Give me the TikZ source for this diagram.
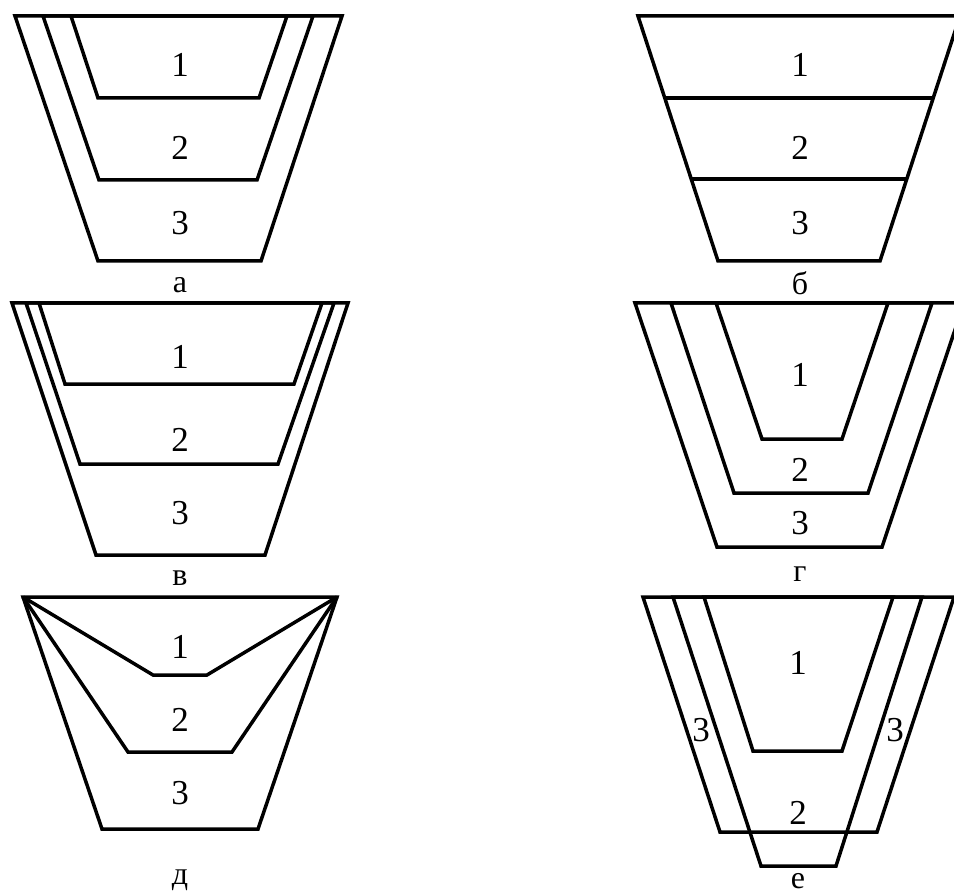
\documentclass[tikz,border=0pt]{standalone}
\usepackage{fontspec}
\setmainfont{Liberation Serif}
\tikzset{
  wall/.style={draw, line width=3.5pt, line join=miter},
  num/.style={font=\fontsize{35}{40}\selectfont, inner sep=0pt},
  caption/.style={font=\fontsize{32}{36}\selectfont, inner sep=0pt}
}
\begin{document}
\begin{tikzpicture}[x=1pt,y=-1pt]
  \clip (0,0) rectangle (954,896);

  % a
  \draw[wall] (15,16) -- (98,261) -- (261,261) -- (342,16) -- cycle;
  \draw[wall] (43,16) -- (99,180) -- (257,180) -- (313,16) -- cycle;
  \draw[wall] (71,16) -- (98,98) -- (259,98) -- (287,16) -- cycle;
  \node[num] (a1) at (180,65) {1};
  \node[num] (a2) at (180,148) {2};
  \node[num] (a3) at (180,223) {3};
  \node[caption] (acap) at (180,285) {а};

  % b
  \draw[wall] (638,16) -- (718,261) -- (880,261) -- (960,16) -- cycle;
  \draw[wall] (665,98) -- (933,98);
  \draw[wall] (692,179) -- (906,179);
  \node[num] (b1) at (800,65) {1};
  \node[num] (b2) at (800,148) {2};
  \node[num] (b3) at (800,223) {3};
  \node[caption] (bcap) at (800,283) {б};

  % v
  \draw[wall] (12,303) -- (96,555) -- (265,555) -- (348,303) -- cycle;
  \draw[wall] (26,303) -- (80,464) -- (278,464) -- (334,303) -- cycle;
  \draw[wall] (39,303) -- (65,384) -- (294,384) -- (322,303) -- cycle;
  \node[num] (v1) at (180,357) {1};
  \node[num] (v2) at (180,440) {2};
  \node[num] (v3) at (180,513) {3};
  \node[caption] (vcap) at (180,578) {в};

  % g
  \draw[wall] (635,303) -- (717,547) -- (882,547) -- (964,303) -- cycle;
  \draw[wall] (671,303) -- (734,493) -- (868,493) -- (932,303) -- cycle;
  \draw[wall] (716,303) -- (762,439) -- (842,439) -- (888,303) -- cycle;
  \node[num] (g1) at (800,375) {1};
  \node[num] (g2) at (800,470) {2};
  \node[num] (g3) at (800,523) {3};
  \node[caption] (gcap) at (800,574) {г};

  % d
  \draw[wall] (23,597) -- (102,829) -- (258,829) -- (337,597) -- cycle;
  \draw[wall] (23,597) -- (153,675) -- (207,675) -- (337,597);
  \draw[wall] (23,597) -- (128,752) -- (232,752) -- (337,597);
  \node[num] (d1) at (180,647) {1};
  \node[num] (d2) at (180,720) {2};
  \node[num] (d3) at (180,793) {3};
  \node[caption] (dcap) at (180,880) {д};

  % e
  \draw[wall] (643,597) -- (720,832) -- (877,832) -- (954,597) -- cycle;
  \draw[wall] (673,597) -- (761,866) -- (836,866) -- (922,597) -- cycle;
  \draw[wall] (704,597) -- (753,751) -- (842,751) -- (893,597) -- cycle;
  \node[num] (e1) at (798,663) {1};
  \node[num] (e2) at (798,813) {2};
  \node[num] (e3l) at (701,730) {3};
  \node[num] (e3r) at (895,730) {3};
  \node[caption] (ecap) at (798,881) {е};
\end{tikzpicture}
\end{document}
